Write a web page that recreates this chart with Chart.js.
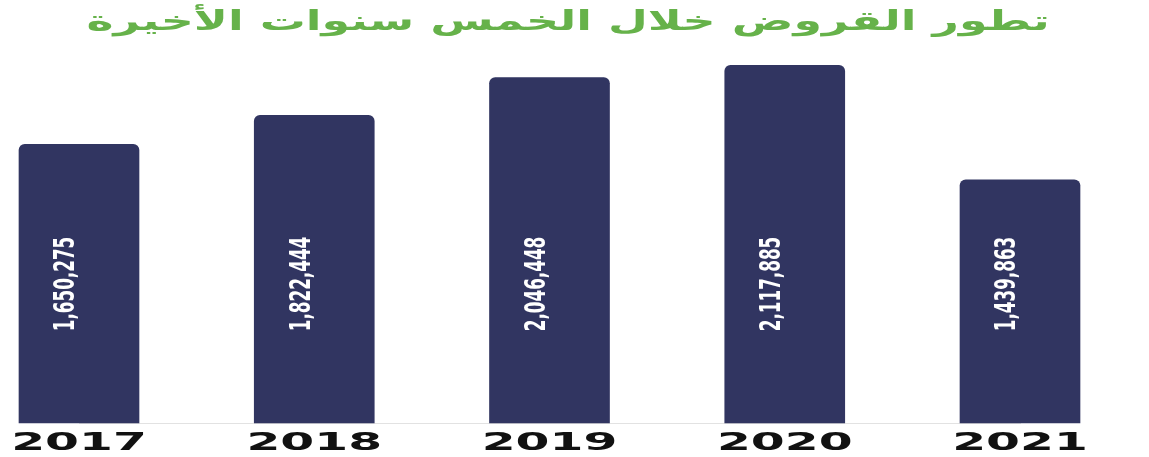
<!DOCTYPE html>
<html lang="ar">
<head>
<meta charset="utf-8">
<title>تطور القروض</title>
<script src="https://cdn.jsdelivr.net/npm/chart.js@4"></script>
<style>
    html, body { margin: 0; padding: 0; background: #ffffff; }
    #wrap { width: 1149px; height: 457px; }
</style>
</head>
<body>
<div id="wrap"><canvas id="chart"></canvas></div>
<script>
const years = ['2017', '2018', '2019', '2020', '2021']
const loans = [1650275, 1822444, 2046448, 2117885, 1439863]
const chartTitle = 'تطور القروض خلال الخمس سنوات الأخيرة'

const barColor = '#313561'

// green heading, drawn wide across the top
const wideTitle = {
    id: 'wideTitle',
    afterDraw(chart) {
        const { ctx } = chart
        ctx.save()
        ctx.fillStyle = '#66b24a'
        ctx.font = 'bold 27px "DejaVu Sans"'
        ctx.textAlign = 'center'
        ctx.textBaseline = 'alphabetic'
        ctx.translate(568, 30)
        ctx.scale(1.7, 1)
        ctx.fillText(chartTitle, 0, 0)
        ctx.restore()
    }
}

// value written sideways inside each bar
const valueLabels = {
    id: 'valueLabels',
    afterDatasetsDraw(chart) {
        const { ctx } = chart
        const meta = chart.getDatasetMeta(0)
        ctx.save()
        ctx.fillStyle = '#ffffff'
        ctx.font = 'bold 28px "DejaVu Sans"'
        ctx.textAlign = 'center'
        ctx.textBaseline = 'middle'
        meta.data.forEach((bar, i) => {
            const text = loans[i].toLocaleString('en-US')
            ctx.save()
            ctx.translate(bar.x - 12, 284)
            ctx.rotate(-Math.PI / 2)
            ctx.scale(0.6, 1)
            ctx.fillText(text, 0, 0)
            ctx.restore()
        })
        ctx.restore()
    }
}

// wide bold years under the bars
const yearLabels = {
    id: 'yearLabels',
    afterDraw(chart) {
        const { ctx } = chart
        const x = chart.scales.x
        ctx.save()
        ctx.fillStyle = '#111111'
        ctx.font = 'bold 25px "DejaVu Sans"'
        ctx.textAlign = 'center'
        ctx.textBaseline = 'alphabetic'
        years.forEach((year, i) => {
            ctx.save()
            ctx.translate(x.getPixelForTick(i), 450)
            ctx.scale(1.95, 1)
            ctx.fillText(year, 0, 0)
            ctx.restore()
        })
        ctx.restore()
    }
}

const canvas = document.getElementById('chart')

const chart = new Chart(canvas, {
    type: 'bar',
    data: {
        labels: years,
        datasets: [
            {
                data: loans,
                backgroundColor: barColor,
                barThickness: 120,
                borderRadius: { topLeft: 6, topRight: 6 },
                borderSkipped: 'bottom',
                clip: false,
            },
        ]
    },
    options: {
        responsive: true,
        maintainAspectRatio: false,
        animation: false,
        layout: {
            padding: { left: 79, right: 129, top: 60, bottom: 26 }
        },
        plugins: {
            legend: { display: false },
            tooltip: { enabled: false },
            title: { display: false },
        },
        scales: {
            x: {
                offset: false,
                grid: { display: false },
                border: { display: true, color: '#e2e2e2' },
                ticks: { display: false },
            },
            y: {
                display: false,
                min: 0,
                max: 2150000,
            }
        }
    },
    plugins: [valueLabels, yearLabels, wideTitle]
});
</script>
</body>
</html>
